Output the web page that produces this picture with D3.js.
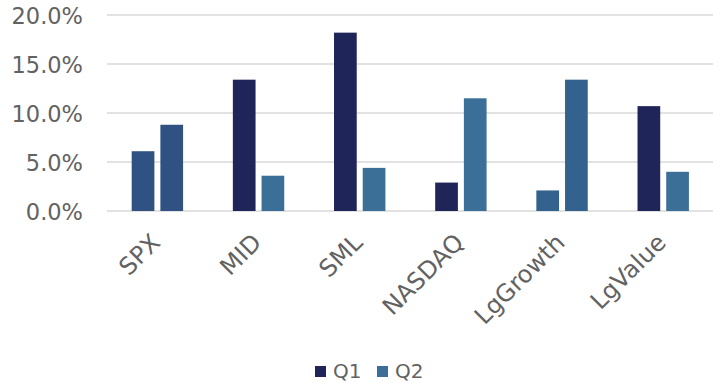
<!DOCTYPE html>
<html><head><meta charset="utf-8">
<script src="https://cdn.jsdelivr.net/npm/d3@7"></script>
<style>body{margin:0;background:#fff}svg{display:block}</style>
</head><body>
<svg id="c" width="714" height="383"></svg>
<script>
const categories = ["SPX","MID","SML","NASDAQ","LgGrowth","LgValue"];
const seriesNames = ["Q1","Q2"];
const q1Values = [6.1,13.4,18.2,2.9,2.1,10.7];
const q2Values = [8.8,3.6,4.4,11.5,13.4,4.0];
const yTicks = [0,5,10,15,20];
const seriesColors = ["#1F2459","#3C6F98"];
const pointColorOverrides = {SPX:"#2F5283", LgGrowth:"#34628F"};

const svg = d3.select("#c");
const font = "'DejaVu Sans', sans-serif";
const textColor = "#626262";
const m = {left:107, right:0, top:15, bottom:172};
const W = 714, H = 383;
const x = d3.scaleBand().domain(categories).range([m.left, W - m.right]).paddingInner(0).paddingOuter(0);
const bw = x.bandwidth();
const x1 = d3.scaleBand().domain(seriesNames).range([0.244 * bw, 0.752 * bw]).paddingInner(0.209).paddingOuter(0);
const y = d3.scaleLinear().domain([0,20]).range([H - m.bottom, m.top]);

// gridlines
svg.append("g").selectAll("line").data(yTicks).join("line")
  .attr("x1", m.left).attr("x2", W - 1)
  .attr("y1", d => y(d)).attr("y2", d => y(d))
  .attr("stroke", "#d9d9d9").attr("stroke-width", 1.5);

// y axis labels
const yAxis = d3.axisLeft(y).tickValues(yTicks).tickFormat(d => d.toFixed(1) + "%").tickSize(0).tickPadding(0);
const gy = svg.append("g").attr("transform", `translate(83,0)`).call(yAxis);
gy.select(".domain").remove();
gy.selectAll("text").attr("font-family", font).attr("font-size", 22.5).attr("fill", textColor).attr("dy", "0.36em");

const data = categories.map((c,i) => ({cat:c, vals:[q1Values[i], q2Values[i]]}));
const groups = svg.append("g").selectAll("g").data(data).join("g")
  .attr("transform", d => `translate(${x(d.cat)},0)`);
groups.selectAll("rect").data(d => d.vals.map((v,j) => ({cat:d.cat, s:seriesNames[j], j, v}))).join("rect")
  .attr("x", d => x1(d.s)).attr("width", x1.bandwidth())
  .attr("y", d => y(d.v)).attr("height", d => y(0) - y(d.v))
  .attr("fill", d => pointColorOverrides[d.cat] || seriesColors[d.j]);

// x axis labels
const xAxis = d3.axisBottom(x).tickSize(0).tickPadding(0);
const gx = svg.append("g").attr("transform", `translate(0,${y(0)})`).call(xAxis);
gx.select(".domain").remove();
gx.selectAll("text").attr("font-family", font).attr("font-size", 24).attr("fill", textColor)
  .attr("text-anchor", "end").attr("dy", 0)
  .attr("transform", "translate(4,33) rotate(-45)");

// legend
const lg = svg.append("g").attr("transform", "translate(315,366)");
const items = lg.selectAll("g").data(seriesNames).join("g").attr("transform", (d,i) => `translate(${i*62},0)`);
items.append("rect").attr("width", 11).attr("height", 11).attr("fill", (d,i) => seriesColors[i]);
items.append("text").attr("x", 18).attr("y", 11.5).text(d => d)
  .attr("font-family", font).attr("font-size", 20).attr("fill", textColor);
</script>
</body></html>
